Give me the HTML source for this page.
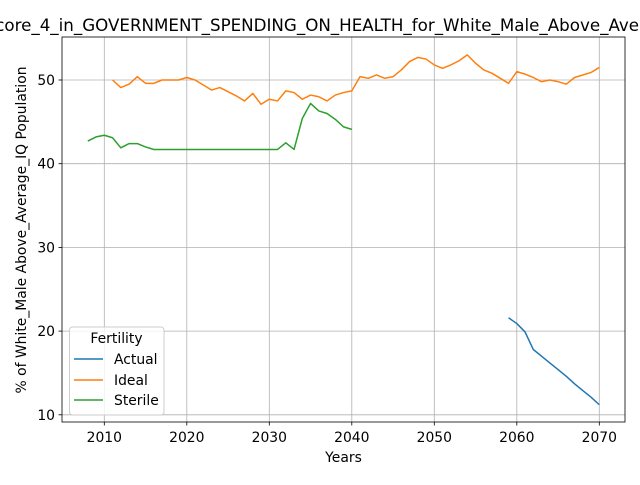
<!DOCTYPE html>
<html><head><meta charset="utf-8"><style>
body{margin:0;background:#fff;overflow:hidden;}
svg text{font-family:"DejaVu Sans","Liberation Sans",sans-serif;fill:#000;}
</style></head><body>
<svg id="chart" width="640" height="480" xmlns="http://www.w3.org/2000/svg"></svg>
<script>
const idealYears=[];for(let y=2011;y<=2070;y++)idealYears.push(y);
const idealValues=[50,49.1,49.5,50.4,49.6,49.6,50,50,50,50.3,50,49.4,48.8,49.1,48.6,48.1,47.5,48.4,47.1,47.7,47.5,48.7,48.5,47.7,48.2,48,47.5,48.2,48.5,48.7,50.4,50.2,50.6,50.2,50.4,51.2,52.2,52.7,52.5,51.8,51.4,51.8,52.3,53,52,51.2,50.8,50.2,49.6,51,50.7,50.3,49.8,50,49.8,49.5,50.3,50.6,50.9,51.5];
const sterileYears=[];for(let y=2008;y<=2040;y++)sterileYears.push(y);
const sterileValues=[42.7,43.2,43.4,43.1,41.9,42.4,42.4,42,41.7,41.7,41.7,41.7,41.7,41.7,41.7,41.7,41.7,41.7,41.7,41.7,41.7,41.7,41.7,41.7,42.5,41.7,45.4,47.2,46.3,46,45.3,44.4,44.1];
const actualYears=[2059,2060,2061,2062,2063,2064,2065,2066,2067,2068,2069,2070];
const actualValues=[21.6,20.9,19.9,17.8,17,16.2,15.4,14.6,13.7,12.9,12.1,11.2];
const xTicks=[2010,2020,2030,2040,2050,2060,2070];
const yTicks=[10,20,30,40,50];
const NS="http://www.w3.org/2000/svg";
const svg=document.getElementById('chart');
const L=62,R=625,T=37,B=422;
const xs=v=>104.3+(v-2010)*8.25;
const ys=v=>414.8-(v-10)*8.37;
function mk(t,a,p){const e=document.createElementNS(NS,t);for(const k in a)e.setAttribute(k,a[k]);(p||svg).appendChild(e);return e;}
const grid=mk('g',{});


xTicks.forEach(t=>{const x=xs(t);
 mk('line',{x1:x,x2:x,y1:T,y2:B,stroke:'#b0b0b0','stroke-width':0.8},grid);
 mk('line',{x1:x,x2:x,y1:B,y2:B+3.5,stroke:'#000','stroke-width':0.8});
 const tx=mk('text',{x:x,y:B+20,'text-anchor':'middle','font-size':13.9});tx.textContent=t;
 
 });
yTicks.forEach(t=>{const y=ys(t);
 mk('line',{x1:L,x2:R,y1:y,y2:y,stroke:'#b0b0b0','stroke-width':0.8},grid);
 mk('line',{x1:L-3.5,x2:L,y1:y,y2:y,stroke:'#000','stroke-width':0.8});
 const tx=mk('text',{x:L-7,y:y+5,'text-anchor':'end','font-size':13.9});tx.textContent=t;
 
 });
function series(xsA,vals,color,name){
 const p=mk('polyline',{points:xsA.map((x,i)=>xs(x)+','+ys(vals[i])).join(' '),fill:'none',stroke:color,'stroke-width':1.5,'stroke-linejoin':'round'});
 
 }
series(actualYears,actualValues,'#1f77b4','actual-line');
series(idealYears,idealValues,'#ff7f0e','ideal-line');
series(sterileYears,sterileValues,'#2ca02c','sterile-line');
const fr=mk('rect',{x:L,y:T,width:R-L,height:B-T,fill:'none',stroke:'#000','stroke-width':0.8});


const ti=mk('text',{x:344,y:31,'text-anchor':'middle','font-size':16.7});ti.textContent='Score_4_in_GOVERNMENT_SPENDING_ON_HEALTH_for_White_Male_Above_Average_IQ';


const xl=mk('text',{x:343.5,y:462,'text-anchor':'middle','font-size':13.9});xl.textContent='Years';


const yl=mk('text',{x:0,y:0,'text-anchor':'middle','font-size':13.9,transform:'translate(26,230) rotate(-90)'});yl.textContent='% of White_Male Above_Average_IQ Population';


const lg=mk('g',{});


mk('rect',{x:69.5,y:327,width:94.5,height:88,rx:3,fill:'#fff','fill-opacity':0.8,stroke:'#ccc'},lg);
const lt=mk('text',{x:116.5,y:343,'text-anchor':'middle','font-size':13.9},lg);lt.textContent='Fertility';
[['Actual','#1f77b4',359],['Ideal','#ff7f0e',380],['Sterile','#2ca02c',400]].forEach(([n,c,y])=>{
 const g=mk('g',{},lg);
 
 
 mk('line',{x1:74,x2:103,y1:y,y2:y,stroke:c,'stroke-width':1.5},g);
 const t=mk('text',{x:114,y:y+5,'font-size':13.9},g);t.textContent=n;});
</script>
</body></html>
